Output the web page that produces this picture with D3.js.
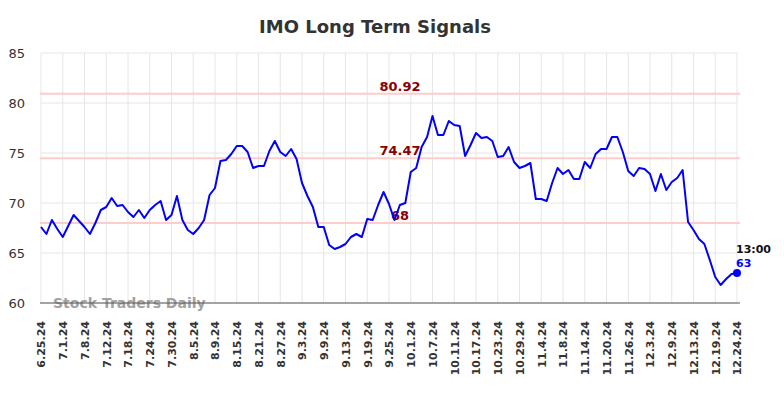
<!DOCTYPE html>
<html>
<head>
<meta charset="utf-8">
<script src="https://cdn.jsdelivr.net/npm/d3@7"></script>
<style>
  body { margin: 0; background: #fff; }
  svg { display: block; font-family: "DejaVu Sans", sans-serif; }
</style>
</head>
<body>
<main></main>
<script>
const width = 784;
const height = 398;

// one tick label every 4 trading days
const tickLabels = ["6.25.24", "7.1.24", "7.8.24", "7.12.24", "7.18.24", "7.24.24", "7.30.24", "8.5.24",
  "8.9.24", "8.15.24", "8.21.24", "8.27.24", "9.3.24", "9.9.24", "9.13.24", "9.19.24", "9.25.24",
  "10.1.24", "10.7.24", "10.11.24", "10.17.24", "10.23.24", "10.29.24", "11.4.24", "11.8.24",
  "11.14.24", "11.20.24", "11.26.24", "12.3.24", "12.9.24", "12.13.24", "12.19.24", "12.24.24"];

// daily closes
const prices = [
  67.6, 66.9, 68.3, 67.4, 66.6, 67.7, 68.8, 68.2, 67.6, 66.9,
  68.0, 69.3, 69.6, 70.5, 69.7, 69.8, 69.1, 68.6, 69.3, 68.5,
  69.3, 69.8, 70.2, 68.3, 68.8, 70.7, 68.3, 67.3, 66.9, 67.5,
  68.3, 70.8, 71.5, 74.2, 74.3, 74.9, 75.7, 75.7, 75.1, 73.5,
  73.7, 73.7, 75.2, 76.2, 75.1, 74.7, 75.4, 74.4, 72.0, 70.7,
  69.6, 67.6, 67.6, 65.8, 65.4, 65.6, 65.9, 66.6, 66.9, 66.6,
  68.4, 68.3, 69.8, 71.1, 69.9, 68.3, 69.8, 70.0, 73.1, 73.5,
  75.6, 76.6, 78.7, 76.8, 76.8, 78.2, 77.8, 77.7, 74.7, 75.8,
  77.0, 76.5, 76.6, 76.2, 74.6, 74.7, 75.6, 74.1, 73.5, 73.7,
  74.0, 70.4, 70.4, 70.2, 72.0, 73.5, 72.9, 73.3, 72.4, 72.4,
  74.1, 73.5, 74.9, 75.4, 75.4, 76.6, 76.6, 75.1, 73.2, 72.7,
  73.5, 73.4, 72.9, 71.2, 72.9, 71.3, 72.1, 72.5, 73.3, 68.1,
  67.3, 66.4, 65.9, 64.3, 62.6, 61.8, 62.4, 62.9, 63.0];

const levels = [80.92, 74.47, 68];
const levelLabels = ["80.92", "74.47", "68"];
const yTicks = [60, 65, 70, 75, 80, 85];
const lastTime = "13:00";
const lastLabel = "63";

const margin = {left: 41, right: 47, top: 53, bottom: 95};

const svg = d3.select("main")
  .append("svg")
  .attr("width", width)
  .attr("height", height);

const x = d3.scaleLinear()
  .domain([0, prices.length - 1])
  .range([margin.left, width - margin.right]);

const y = d3.scaleLinear()
  .domain([60, 85])
  .range([height - margin.bottom, margin.top]);

// title
svg.append("text")
  .attr("x", 375)
  .attr("y", 33)
  .attr("text-anchor", "middle")
  .attr("font-size", 18)
  .attr("font-weight", "bold")
  .attr("fill", "#333")
  .text("IMO Long Term Signals");

// grid
const tickIdx = tickLabels.map((d, i) => i * 4);

svg.append("g")
  .selectAll("line")
  .data(yTicks)
  .join("line")
  .attr("x1", margin.left)
  .attr("x2", width - margin.right)
  .attr("y1", d => y(d))
  .attr("y2", d => y(d))
  .attr("stroke", "#e6e6e6")
  .attr("stroke-width", 1);

svg.append("g")
  .selectAll("line")
  .data(tickIdx)
  .join("line")
  .attr("x1", d => x(d))
  .attr("x2", d => x(d))
  .attr("y1", y(85))
  .attr("y2", y(60))
  .attr("stroke", "#e6e6e6")
  .attr("stroke-width", 1);

// y axis labels
const yAxis = svg.append("g")
  .attr("transform", `translate(${margin.left - 16},0)`)
  .call(d3.axisLeft(y).tickValues(yTicks).tickSize(0).tickPadding(0));
yAxis.select(".domain").remove();
yAxis.selectAll("text")
  .attr("font-size", 13)
  .attr("font-family", "DejaVu Sans, sans-serif")
  .attr("fill", "#333");

// x axis labels
const xAxis = svg.append("g")
  .attr("transform", `translate(0,${y(60)})`)
  .call(d3.axisBottom(x).tickValues(tickIdx).tickFormat((d, i) => tickLabels[i]).tickSize(0));
xAxis.select(".domain").remove();
xAxis.selectAll("text")
  .attr("font-size", 11)
  .attr("font-weight", "bold")
  .attr("font-family", "DejaVu Sans, sans-serif")
  .attr("fill", "#333")
  .attr("text-anchor", "end")
  .attr("transform", "rotate(-90)")
  .attr("x", -18)
  .attr("y", 0)
  .attr("dy", "0.35em");

// watermark
svg.append("text")
  .attr("x", 53)
  .attr("y", 308)
  .attr("font-size", 14)
  .attr("font-weight", "bold")
  .attr("fill", "#999")
  .attr("opacity", 0.9)
  .text("Stock Traders Daily");

// bottom axis line
svg.append("line")
  .attr("x1", margin.left - 1)
  .attr("x2", width - margin.right + 3)
  .attr("y1", y(60))
  .attr("y2", y(60))
  .attr("stroke", "#555")
  .attr("stroke-width", 1);

// signal levels
svg.append("g")
  .selectAll("line")
  .data(levels)
  .join("line")
  .attr("x1", margin.left - 1)
  .attr("x2", width - margin.right + 3)
  .attr("y1", d => y(d))
  .attr("y2", d => y(d))
  .attr("stroke", "#ffcccc")
  .attr("stroke-width", 2);

svg.append("g")
  .selectAll("text")
  .data(levels)
  .join("text")
  .attr("x", 400)
  .attr("y", d => y(d) - 3)
  .attr("text-anchor", "middle")
  .attr("font-size", 13)
  .attr("font-weight", "bold")
  .attr("fill", "#8b0000")
  .text((d, i) => levelLabels[i]);

// price line
const line = d3.line()
  .x((d, i) => x(i))
  .y(d => y(d));

svg.append("path")
  .datum(prices)
  .attr("fill", "none")
  .attr("stroke", "#0000ff")
  .attr("stroke-width", 2)
  .attr("stroke-linejoin", "round")
  .attr("d", line);

const lastI = prices.length - 1;
svg.append("circle")
  .attr("cx", x(lastI))
  .attr("cy", y(prices[lastI]))
  .attr("r", 4)
  .attr("fill", "#0000ff");

svg.append("text")
  .attr("x", x(lastI) - 1)
  .attr("y", y(prices[lastI]) - 20)
  .attr("font-size", 11)
  .attr("font-weight", "bold")
  .attr("fill", "#111")
  .text(lastTime);

svg.append("text")
  .attr("x", x(lastI) - 1)
  .attr("y", y(prices[lastI]) - 6)
  .attr("font-size", 11)
  .attr("font-weight", "bold")
  .attr("fill", "#0000ff")
  .text(lastLabel);
</script>
</body>
</html>
